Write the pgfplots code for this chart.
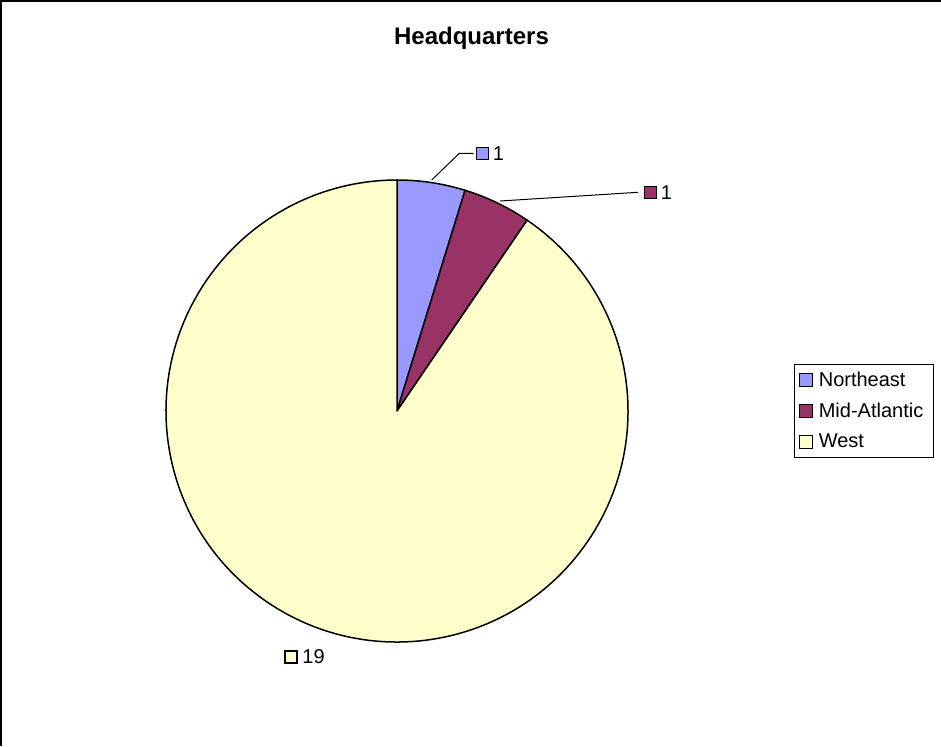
\documentclass[border=0pt]{standalone}
\usepackage{pgfplots}
\pgfplotsset{compat=1.18}
\usepackage{fontspec}
\setmainfont{Liberation Sans}
\definecolor{ne}{HTML}{9999FF}
\definecolor{ma}{HTML}{993366}
\definecolor{we}{HTML}{FFFFCC}
% data
\def\vNE{1}
\def\vMA{1}
\def\vW{19}
\pgfmathsetmacro{\tot}{\vNE+\vMA+\vW}
\pgfmathsetmacro{\aA}{90-360*\vNE/\tot}
\pgfmathsetmacro{\aB}{\aA-360*\vMA/\tot}
\pgfmathsetmacro{\aC}{\aB-360*\vW/\tot}
\def\R{115.5pt}
\begin{document}
\begin{tikzpicture}
\begin{axis}[
  width=470.5pt, height=373pt, scale only axis,
  xmin=0, xmax=941, ymin=0, ymax=746, y dir=reverse,
  hide axis, clip=false,
  font=\fontsize{10}{12}\selectfont,
  legend image code/.code={\draw[#1,line width=0.6pt] (0pt,-3.25pt) rectangle (6.5pt,3.25pt);},
  legend style={at={(axis cs:794,364)}, anchor=north west, draw=black, line width=0.6pt,
    font=\fontsize{10}{12}\selectfont, row sep=2.75pt, inner xsep=2pt, inner ysep=1.5pt,
    nodes={inner xsep=3pt}},
  legend cell align=left,
]
\addlegendimage{fill=ne,draw=black}
\addlegendentry{Northeast}
\addlegendimage{fill=ma,draw=black}
\addlegendentry{Mid-Atlantic}
\addlegendimage{fill=we,draw=black}
\addlegendentry{West}
% frame
\draw[line width=1pt] (axis cs:1,746) -- (axis cs:1,1) -- (axis cs:941,1);
% title
\node[font=\fontsize{12}{14}\selectfont\bfseries] at (axis cs:471.5,38) {Headquarters};
% pie
\filldraw[fill=ne,draw=black,line width=0.75pt,line join=round] (axis cs:397,411) -- ++(90:\R) arc[start angle=90,end angle=\aA,radius=\R] -- cycle;
\filldraw[fill=ma,draw=black,line width=0.75pt,line join=round] (axis cs:397,411) -- ++(\aA:\R) arc[start angle=\aA,end angle=\aB,radius=\R] -- cycle;
\filldraw[fill=we,draw=black,line width=0.75pt,line join=round] (axis cs:397,411) -- ++(\aB:\R) arc[start angle=\aB,end angle=\aC,radius=\R] -- cycle;
% labels
\draw[line width=0.5pt] (axis cs:431.7,180) -- (axis cs:459.3,153.3) -- (axis cs:473.5,153.3);
\filldraw[fill=ne,draw=black,line width=0.6pt] (axis cs:476.5,147.5) rectangle (axis cs:488.5,159.5);
\node[anchor=west,inner sep=0pt] at (axis cs:492.5,153.5) {\vNE};
\draw[line width=0.5pt] (axis cs:500,201) -- (axis cs:638,192.3);
\filldraw[fill=ma,draw=black,line width=0.6pt] (axis cs:644.5,186.5) rectangle (axis cs:656.5,198.5);
\node[anchor=west,inner sep=0pt] at (axis cs:660.5,192.5) {\vMA};
\filldraw[fill=we,draw=black,line width=0.6pt] (axis cs:285,651) rectangle (axis cs:297,663);
\node[anchor=west,inner sep=0pt] at (axis cs:302,657) {\vW};
\end{axis}
\pgfresetboundingbox
\useasboundingbox (0,0) rectangle (470.5pt,373pt);
\end{tikzpicture}
\end{document}
